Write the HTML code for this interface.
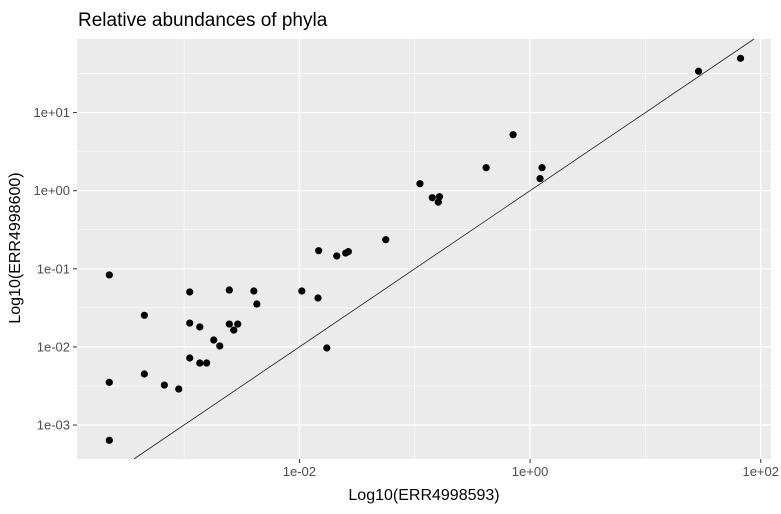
<!DOCTYPE html>
<html><head><meta charset="utf-8"><style>
html,body{margin:0;padding:0;background:#fff;}
svg{display:block;font-family:"Liberation Sans",Arial,sans-serif;}
</style></head><body>
<svg id="chart" width="781" height="514">
<text x="78" y="26" font-size="19" fill="#000">Relative abundances of phyla</text>
<rect x="77" y="39" width="694" height="420" fill="#ebebeb"/>
<g id="grid"></g>
<g id="axes"></g>
<line id="refline" stroke="#222" stroke-width="0.8"/>
<g id="points"></g>
<text x="424" y="500" font-size="16" text-anchor="middle" fill="#000">Log10(ERR4998593)</text>
<text transform="translate(20,248) rotate(-90)" font-size="16" text-anchor="middle" fill="#000">Log10(ERR4998600)</text>
</svg>
<script>
const xVals = [2.25e-4,2.25e-4,2.25e-4,4.53e-4,4.53e-4,6.75e-4,9.0e-4,1.12e-3,1.12e-3,1.12e-3,1.37e-3,1.37e-3,1.57e-3,1.81e-3,2.04e-3,2.47e-3,2.47e-3,2.70e-3,2.92e-3,4.03e-3,4.28e-3,0.0105,0.0145,0.0147,0.0173,0.0211,0.0252,0.0266,0.0561,0.111,0.142,0.164,0.160,0.416,0.713,1.27,1.22,28.9,66.8];
const yVals = [0.0834,0.00352,0.000637,0.0254,0.0045,0.00325,0.00289,0.0505,0.0202,0.00721,0.0180,0.00622,0.00622,0.01225,0.01028,0.0535,0.0196,0.0164,0.0196,0.0520,0.0354,0.0520,0.0423,0.1706,0.00968,0.146,0.159,0.166,0.236,1.23,0.813,0.838,0.714,1.97,5.21,1.97,1.43,33.8,49.5];
const xTickExps = [-2,0,2];
const xTickLabels = ["1e-02","1e+00","1e+02"];
const yTickExps = [-3,-2,-1,0,1];
const yTickLabels = ["1e-03","1e-02","1e-01","1e+00","1e+01"];

const L=77,R=771,T=39,B=459;
const xMin=-3.928,xMax=2.089,yMin=-3.435,yMax=1.942;
function xs(l){return L+(l-xMin)/(xMax-xMin)*(R-L);}
function ys(l){return B-(l-yMin)/(yMax-yMin)*(B-T);}
const NS="http://www.w3.org/2000/svg";
function mk(tag,attrs,parent){const e=document.createElementNS(NS,tag);for(const k in attrs)e.setAttribute(k,attrs[k]);parent.appendChild(e);return e;}
const grid=document.getElementById('grid'),axes=document.getElementById('axes'),pts=document.getElementById('points');
for(let e=-3;e<=1;e+=2){const x=xs(e);
 const g=mk('line',{x1:x,x2:x,y1:T,y2:B,stroke:'#fff','stroke-width':0.6},grid);
 
 }
for(let e=-3.5;e<=1.5;e+=1){const y=ys(e);
 const g=mk('line',{x1:L,x2:R,y1:y,y2:y,stroke:'#fff','stroke-width':0.6},grid);
 
 }
xTickExps.forEach((e,i)=>{const x=xs(e);
 const g=mk('line',{x1:x,x2:x,y1:T,y2:B,stroke:'#fff','stroke-width':1.2},grid);
 
 
 const t=mk('line',{x1:x,x2:x,y1:B,y2:B+4,stroke:'#333','stroke-width':1},axes);
 
 
 const tx=mk('text',{x:x,y:B+17,'font-size':13,'text-anchor':'middle',fill:'#4d4d4d'},axes);
 tx.textContent=xTickLabels[i];
 
 });
yTickExps.forEach((e,i)=>{const y=ys(e);
 const g=mk('line',{x1:L,x2:R,y1:y,y2:y,stroke:'#fff','stroke-width':1.2},grid);
 
 
 const t=mk('line',{x1:L-4,x2:L,y1:y,y2:y,stroke:'#333','stroke-width':1},axes);
 
 
 const tx=mk('text',{x:L-7,y:y+4.5,'font-size':13,'text-anchor':'end',fill:'#4d4d4d'},axes);
 tx.textContent=yTickLabels[i];
 
 });
const lo=Math.max(xMin,yMin),hi=Math.min(xMax,yMax);
const rl=document.getElementById('refline');
rl.setAttribute('x1',xs(lo));rl.setAttribute('y1',ys(lo));rl.setAttribute('x2',xs(hi));rl.setAttribute('y2',ys(hi));
xVals.forEach((v,i)=>{
 const c=mk('circle',{cx:xs(Math.log10(v)),cy:ys(Math.log10(yVals[i])),r:3.6,fill:'#000'},pts);
 
 });
</script>
</body></html>
